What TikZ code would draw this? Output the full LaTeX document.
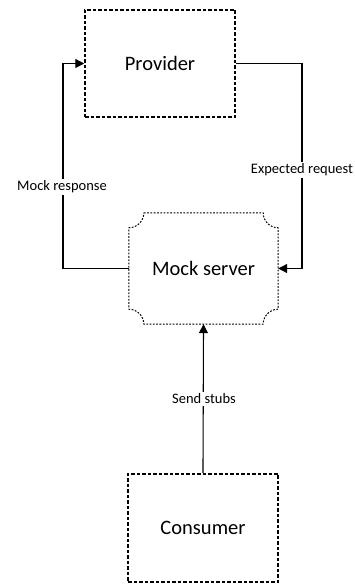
\documentclass[tikz,border=0pt]{standalone}
\usepackage{fontspec}
\setmainfont{Carlito}
\usetikzlibrary{arrows.meta}
\begin{document}
\begin{tikzpicture}[x=1pt,y=1pt,
  block/.style={draw, line width=1.5pt, dash pattern=on 3.5pt off 2pt,
    minimum width=150pt, minimum height=107pt, inner sep=0pt, font=\fontsize{20.5}{23}\selectfont},
  ghost/.style={minimum width=149pt, minimum height=111pt, inner sep=0pt, font=\fontsize{20.5}{23}\selectfont},
  link/.style={line width=1.1pt, -{Triangle[length=9pt,width=9pt]}},
  tag/.style={fill=white, inner sep=1.5pt, font=\fontsize{14.5}{16}\selectfont}]
  \useasboundingbox (0,0) rectangle (355,584);

  \node[block] (provider) at (160,520.5) {Provider};
  \node[ghost] (server) at (203.5,315.5) {Mock server};
  \node[block, minimum height=108pt] (consumer) at (203,56) {Consumer};

  % dotted outline of the mock server with concave corners
  \draw[line width=1pt, dash pattern=on 1.8pt off 1.5pt]
    ([xshift=15pt]server.north west) -- ([xshift=-15pt]server.north east)
    arc[start angle=180, end angle=270, radius=15pt]
    -- ([yshift=15pt]server.south east)
    arc[start angle=90, end angle=180, radius=15pt]
    -- ([xshift=15pt]server.south west)
    arc[start angle=0, end angle=90, radius=15pt]
    -- ([yshift=-15pt]server.north west)
    arc[start angle=-90, end angle=0, radius=15pt];

  \coordinate (rtop) at (302,520.5);
  \coordinate (rbot) at (302,315.5);
  \coordinate (lbot) at (63,315.5);
  \coordinate (ltop) at (63,520.5);

  \draw[link] (provider.east) -- (rtop) -- (rbot) -- (server.east);
  \draw[link] (server.west) -- (lbot) -- (ltop) -- (provider.west);
  \draw[link] (consumer.north) -- (server.south);

  \node[tag] (expected) at (302,414) {Expected request};
  \node[tag] (response) at (62,397) {Mock response};
  \node[tag] (stubs) at (204,185) {Send stubs};
\end{tikzpicture}
\end{document}
